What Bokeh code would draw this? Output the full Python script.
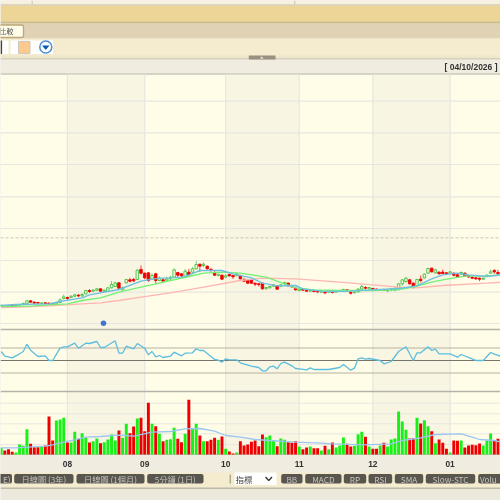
from bokeh.plotting import figure
from bokeh.embed import file_html
from bokeh.resources import INLINE
from bokeh.models import Range1d, ColumnDataSource
from bokeh.core.properties import value

# ---- data ----
date_label = "[ 04/10/2026 ]"
month_labels = ["08", "09", "10", "11", "12", "01"]
month_days = [18, 39, 61, 81, 101, 122]
open_ = [283,285,284,285,283,286,288,290,299,295,294,291,293,292,290,290,294,306,309,309,313,316,314,320,330,328,331,335,327,328,338,342,353,332,353,362,363,363,393,382,383,364,380,360,362,361,365,370,384,380,372,385,385,395,409,405,403,394,384,375,376,370,378,375,375,375,362,360,362,352,350,352,335,338,343,344,343,350,352,345,337,330,333,330,328,329,328,325,325,325,326,325,328,329,332,324,323,326,334,339,335,336,334,331,333,329,332,331,334,350,357,362,352,345,364,368,382,397,383,385,385,383,382,382,377,379,382,374,370,368,367,364,372,382,390,384]
close = [286,283,282,283,285,288,291,299,295,292,292,293,291,290,287,294,302,311,306,313,317,314,318,330,327,331,335,328,331,338,348,353,337,338,363,358,359,391,382,368,360,375,360,367,358,365,370,392,376,374,388,378,395,408,403,409,395,390,376,379,364,374,374,371,380,365,358,352,352,349,348,335,339,342,347,334,347,354,344,341,332,334,331,328,330,327,326,327,323,327,324,327,330,333,328,322,325,334,342,337,339,334,332,333,331,331,335,337,350,362,367,350,340,363,360,379,396,386,392,380,381,380,386,376,370,384,374,371,367,365,364,367,376,386,386,380]
high = [287,285,284,285,286,290,294,300,300,297,296,294,294,294,291,296,306,318,312,315,320,319,322,332,334,334,338,336,333,340,358,356,354,342,365,368,368,393,405,384,384,382,383,372,368,372,374,396,386,382,394,395,400,418,410,414,405,396,392,380,378,380,380,376,383,377,368,362,364,353,352,353,340,345,350,346,349,356,354,347,339,335,334,331,333,330,329,329,326,329,328,330,333,335,334,330,328,337,347,343,341,338,336,335,335,333,338,340,352,364,370,364,354,365,375,381,398,398,395,387,393,385,388,384,382,387,384,376,372,370,369,369,378,393,394,392]
low = [282,282,281,282,282,285,287,289,294,291,291,290,289,288,286,289,293,303,302,308,310,310,310,318,323,325,328,327,325,327,336,340,336,330,351,354,355,361,378,364,356,362,350,358,355,358,362,368,368,370,370,370,382,393,385,400,393,386,374,372,361,368,372,365,372,363,356,350,350,343,342,333,333,336,341,332,341,348,342,339,330,329,329,326,326,325,322,323,319,323,321,323,326,325,326,318,322,324,332,333,333,332,330,329,329,325,328,328,330,345,354,348,336,343,354,366,380,384,381,378,379,378,380,372,368,377,372,368,364,362,358,362,370,380,380,377]
volume = [20,12,16,8,6,30,26,76,32,22,22,24,27,114,42,102,105,110,36,36,68,47,64,50,36,40,48,34,37,45,60,42,72,50,92,64,84,108,110,70,155,92,85,62,40,44,46,80,47,37,62,164,77,92,57,40,40,44,50,44,54,17,9,3,6,40,27,30,38,42,25,60,52,57,42,25,48,44,37,35,40,24,16,21,24,19,19,12,26,16,36,21,27,51,32,24,26,61,68,53,24,17,17,27,35,24,45,48,129,99,74,48,49,110,93,103,85,70,34,45,35,17,6,42,41,42,21,27,29,28,33,27,42,63,42,47]
ma_blue_days = [0,4,13,16,22,24,27,32,38,40,43,46,49,51,54,58,60,63,68,71,75,80,82,87,90,95,101,108,113,117,120,124,127,132,136]
ma_blue = [285,288,290,297,308,317,323,333,358,362,367,368,370,376,390,390,390,380,368,352,344,345,335,328,327,328,332,336,344,365,377,382,377,372,377]
ma_green_days = [0,9,13,18,22,27,32,38,42,46,51,55,60,65,72,77,80,85,92,101,108,112,117,120,126,132,136]
ma_green = [282,284,287,290,300,308,325,340,350,360,372,382,385,382,370,350,338,332,330,330,333,340,355,362,373,374,377]
ma_pink_days = [0,5,13,22,27,32,38,46,55,65,71,80,92,101,108,113,120,132,136]
ma_pink = [279,280,284,290,293,300,310,323,340,360,367,365,355,347,340,338,345,352,355]
rsi_days = [0,1,3,5,6,7,8,10,12,13,14,16,17,18,20,21,23,24,26,27,28,31,32,33,34,36,37,39,40,41,42,43,44,46,47,49,50,52,53,54,55,58,59,60,61,62,64,65,68,70,71,72,73,74,75,76,77,79,80,81,83,84,85,89,92,93,95,96,97,98,99,100,103,104,106,108,110,112,113,114,116,117,118,119,122,124,125,128,129,131,133,134,136]
rsi = [64.4,57,54.3,60.7,64.4,76.1,66.5,56.4,57.5,50,50,69.7,71.9,71.9,77.7,69.7,77.7,77.2,80.4,70.8,70.8,81.5,61.7,61.7,72.9,68.7,77.2,69.7,59.1,64.4,55.9,58,54.8,56.9,63.3,57.5,61.7,62.3,68.7,66,66,51.6,50.5,47.3,52.7,51.1,51.1,46.3,41,38.8,33.5,33.5,39.9,41,36.7,45.2,47.3,41.5,37.2,36.7,35.1,38.3,35.6,35.6,38.8,43.6,34.5,37.7,52.7,54.3,52.1,53.2,50,44.7,48.4,64.4,71.9,50,62.3,62.3,71.9,66,68.1,60.7,60.7,55.3,59.6,52.7,50,50,62.8,60.1,56.4]
vol_ma_days = [0,4,12,14,17,20,23,27,32,36,41,46,50,54,58,61,65,69,73,80,87,90,99,106,109,114,118,125,128,130,134,136]
vol_ma = [20,20,25,29,37,44,52,54,58,55,67,69,77,78,70,57,52,45,42,37,34,32,29,32,42,50,60,62,52,45,42,37]
price_grid = [231,325,420,516,611,708,803,898]
price_dashed = 488
rsi_levels = [30, 70]
rsi_mid = 50
vol_grid = [30,62,92,122,154]
marker_day = [27.8]
marker_price = [232]
buttons_left = ["E)", "日線圖 (3年)", "日線圖 (1個月)", "5分鐘 (1日)"]
buttons_right = ["BB", "MACD", "RP", "RSI", "SMA", "Slow-STC", "Volu"]

# ---- figure: default scales are page pixels, used for the page furniture ----
p = figure(width=500, height=500, x_range=Range1d(0, 500), y_range=Range1d(500, 0),
           output_backend="svg", toolbar_location=None, min_border=0,
           x_axis_type=None, y_axis_type=None, outline_line_color=None,
           background_fill_color="#ece8dc", border_fill_color="#ece8dc",
           styles={"position": "fixed", "left": "0px", "top": "0px"})
p.grid.visible = False
p.extra_x_ranges = {"day": Range1d(-0.182, 135.69)}
p.extra_y_ranges = {"price": Range1d(-300, 1200), "rsi": Range1d(-174, 626), "vol": Range1d(-138, 1362)}

def band(t, b, c, l=0, r=500):
    p.quad(left=l, right=r, top=t, bottom=b, fill_color=c, line_color=None)

band(0, 4, "#f6f0dd")
band(4, 5, "#c4c0b2")
band(5, 21, "#ecd596")
band(21, 23, "#cdb984")
band(23, 38, "#e0d2b4")
band(38, 55, "#f5ecd0")
band(55, 58, "#efe7ca")
band(58, 59, "#bdb9aa")
band(59, 73, "#f0ecdf")
band(73, 74.2, "#bdbbb0")
band(74.2, 454, "#fffde8")
band(454, 472, "#f0ecdf")
band(472, 487, "#f5ecd0")
band(487, 488.5, "#bdb9a5")
band(488.5, 500, "#ece8dc")
p.segment([31.7, 294.3], [0, 0], [31.7, 294.3], [4, 4], line_color="#c9c5b6", line_width=1)

# toolbar controls
band(40, 53.5, "#ffffff", 10, 52.5)
band(40, 53.5, "#ffffff", 1.6, 8)
band(40, 53.5, "#444444", 0, 1.6)
p.quad(left=18, right=29.5, top=41, bottom=53, fill_color="#fdc98c", line_color="#cbc7c2", line_width=1)
p.scatter([45.3], [46.5], size=12, fill_color="#ffffff", line_color="#4a8fd8", line_width=1.5)
p.patch([41.5, 49, 45.3], [45, 45, 49.5], fill_color="#0a5bb0", line_color=None)
p.quad(left=-4, right=23, top=24.5, bottom=37, fill_color="#fffce8", line_color="#bba97a", line_width=1.3, border_radius=2)
p.text([13], [30.5], text=["比較"], text_align="right", text_baseline="middle",
       text_font=value("Noto Sans CJK TC"), text_font_size="7px", text_color="#555555")
band(55, 59, "#9a9080", 248.3, 275)
p.patch([259.5, 263, 261.2], [58, 58, 56], fill_color="#eeeeee", line_color=None)
p.text([497], [66], text=[date_label], text_align="right", text_baseline="middle",
       text_font=value("Liberation Sans"), text_font_style="bold", text_font_size="8.5px", text_color="#333333")

# month shading and vertical grid
n = len(close)
p.quad(left=[month_days[0], month_days[2], month_days[4]], right=[month_days[1], month_days[3], month_days[5]],
       top=[74.2] * 3, bottom=[454] * 3, x_range_name="day", fill_color="#f8f6e2", line_color=None)
p.segment(month_days, [74.2] * 6, month_days, [454] * 6, x_range_name="day", line_color="#e8e6df", line_width=1.2)

# price grid
for g in price_grid:
    p.ray([0], [g], length=500, angle=0, y_range_name="price", line_color="#e8e6df", line_width=1.2)
p.ray([0], [price_dashed], length=500, angle=0, y_range_name="price", line_color="#c8c6bb", line_width=1, line_dash="3 2")

# panel frames
for y, c, w in [(329, "#b5b3a8", 1.5), (391, "#b5b3a8", 1.5), (454, "#c4c2b6", 1)]:
    p.ray([0], [y], length=500, angle=0, line_color=c, line_width=w)

# candles
up = [c >= o for o, c in zip(open_, close)]
days = list(range(n))
src = ColumnDataSource(dict(
    day=days, low=low, high=high,
    top=[max(a, b) for a, b in zip(open_, close)],
    bottom=[min(a, b) for a, b in zip(open_, close)],
    wick=["#5cc85c" if u else "#ee3030" for u in up],
    fill=["#f3fbdc" if u else "#ee0000" for u in up],
    edge=["#45c045" if u else "#ee0000" for u in up],
    vol=volume, zero=[0] * n,
    volc=["#18f018" if u else "#ee0000" for u in up],
))
p.segment("day", "low", "day", "high", source=src, x_range_name="day", y_range_name="price",
          line_color="wick", line_width=0.9)
p.vbar(x="day", top="top", bottom="bottom", width=0.68, source=src, x_range_name="day", y_range_name="price",
       fill_color="fill", line_color="edge", line_width=0.9)
p.line(ma_pink_days, ma_pink, x_range_name="day", y_range_name="price", line_color="#ffb5b0", line_width=1.4)
p.line(ma_green_days, ma_green, x_range_name="day", y_range_name="price", line_color="#74f074", line_width=1.4)
p.line(ma_blue_days, ma_blue, x_range_name="day", y_range_name="price", line_color="#6fc0e0", line_width=1.4)
p.scatter(marker_day, marker_price, x_range_name="day", y_range_name="price", size=5.5,
          fill_color="#3f74d0", line_color=None)

# oscillator panel
for lv in rsi_levels:
    p.ray([0], [lv], length=500, angle=0, y_range_name="rsi", line_color="#b5b2a0", line_width=1.2)
p.ray([0], [rsi_mid], length=500, angle=0, y_range_name="rsi", line_color="#77756a", line_width=1.2)
p.line(rsi_days, rsi, x_range_name="day", y_range_name="rsi", line_color="#5cbde0", line_width=1.3)

# volume panel
for g in vol_grid:
    p.ray([0], [g], length=500, angle=0, y_range_name="vol", line_color="#e8e6df", line_width=1)
p.vbar(x="day", top="vol", bottom="zero", width=0.8, source=src, x_range_name="day", y_range_name="vol",
       fill_color="volc", line_color=None)
p.line(vol_ma_days, vol_ma, x_range_name="day", y_range_name="vol", line_color="#9cc6f0", line_width=1.3)

# month labels
p.text(month_days, [463.5] * 6, text=month_labels, x_range_name="day", text_align="center", text_baseline="middle",
       text_font=value("Liberation Sans"), text_font_style="bold", text_font_size="8.4px", text_color="#333333")

# buttons
btn_l = [-8, 13.7, 76, 146.7, 280.7, 304.7, 343.3, 368, 394.3, 425.3, 477.7]
btn_r = [11.5, 73, 144, 203, 302, 341, 365.7, 391.7, 422.7, 474.7, 520]
labels = buttons_left + buttons_right
p.quad(left=btn_l, right=btn_r, top=[473.5] * 11, bottom=[483] * 11, fill_color="#58564f", line_color=None, border_radius=2)
btx = [(l + r) / 2 for l, r in zip(btn_l, btn_r)]
btx[-1] = 479.5
aligns = ["center"] * 10 + ["left"]
btx[0] = 10
aligns[0] = "right"
p.text(btx, [478.4] * 11, text=labels, text_align=aligns, text_baseline="middle",
       text_font=value("Noto Sans CJK TC"), text_font_size="8.2px", text_color="#c4c4bc")
p.segment([229.7], [474], [229.7], [483], line_color="#8c8a78", line_width=1)
band(472, 484.5, "#ffffff", 234, 276)
p.text([235], [478.5], text=["指標"], text_align="left", text_baseline="middle",
       text_font=value("Noto Sans CJK TC"), text_font_size="8.5px", text_color="#444444")
p.line([265, 268.3, 271.5], [476.5, 480, 476.5], line_color="#333333", line_width=1.3)

open("out.html", "w").write(file_html(p, INLINE))
